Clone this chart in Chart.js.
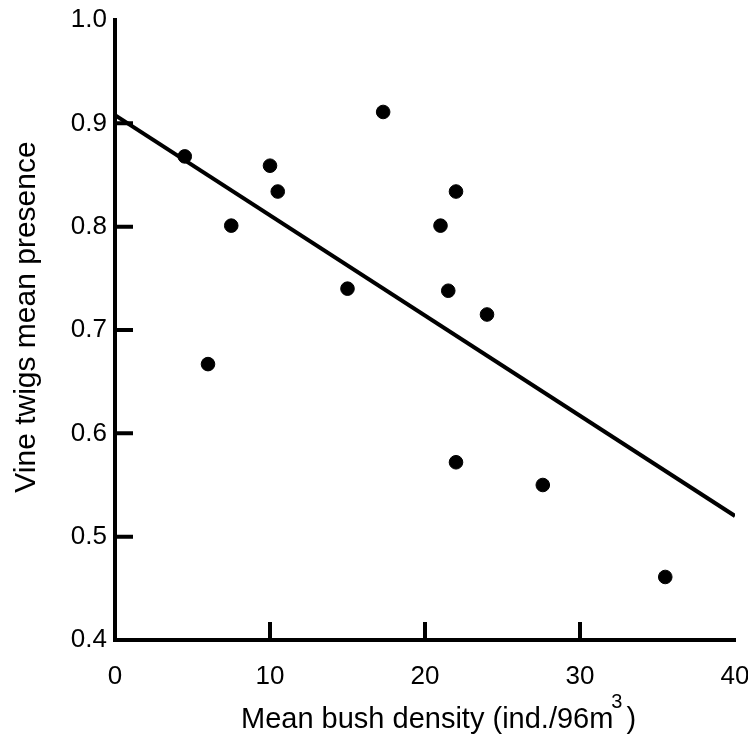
<!DOCTYPE html>
<html>
<head>
<meta charset="utf-8">
<script src="https://cdn.jsdelivr.net/npm/chart.js@4.4.1/dist/chart.umd.min.js"></script>
<style>
    html, body { margin: 0; padding: 0; background: #fff; }
    #wrap { width: 748px; height: 736px; position: relative; }
</style>
</head>
<body>
<div id="wrap"><canvas id="vine_chart"></canvas></div>
<script>
// observed sites
const bushDensity  = [4.5, 6.0, 7.5, 10.0, 10.5, 15.0, 17.3, 21.0, 22.0, 21.5, 24.0, 22.0, 27.6, 35.5];
const vinePresence = [0.868, 0.667, 0.801, 0.859, 0.834, 0.740, 0.911, 0.801, 0.834, 0.738, 0.715, 0.572, 0.550, 0.461];

// fitted regression line, end points
const fitX = [0, 40];
const fitY = [0.908, 0.520];

// axis ticks
const xTicks = [0, 10, 20, 30, 40];
const yTicks = [0.4, 0.5, 0.6, 0.7, 0.8, 0.9, 1.0];
const xInnerTicks = [10, 20, 30];
const yInnerTicks = [0.5, 0.6, 0.7, 0.8, 0.9];

const FONT = '"Liberation Sans", Arial, sans-serif';

document.addEventListener('DOMContentLoaded', function () {
    const ctx = document.getElementById('vine_chart').getContext('2d');

    // inward tick marks + axis titles (x title needs a superscript)
    const decorations = {
        id: 'decorations',
        afterDraw(chart) {
            const c = chart.ctx;
            const area = chart.chartArea;
            const xs = chart.scales.x, ys = chart.scales.y;
            c.save();
            c.strokeStyle = '#000';
            c.lineWidth = 4;
            c.beginPath();
            yInnerTicks.forEach(v => {
                const py = ys.getPixelForValue(v);
                c.moveTo(area.left, py);
                c.lineTo(area.left + 18, py);
            });
            xInnerTicks.forEach(v => {
                const px = xs.getPixelForValue(v);
                c.moveTo(px, area.bottom);
                c.lineTo(px, area.bottom - 18);
            });
            c.stroke();

            c.fillStyle = '#000';
            // y title
            c.save();
            c.translate(35, (area.top + area.bottom) / 2 - 13);
            c.rotate(-Math.PI / 2);
            c.font = '30px ' + FONT;
            c.textAlign = 'center';
            c.textBaseline = 'alphabetic';
            c.fillText('Vine twigs mean presence', 0, 0);
            c.restore();

            // x title
            const main = 'Mean bush density (ind./96m';
            c.font = '29px ' + FONT;
            c.textAlign = 'left';
            c.textBaseline = 'alphabetic';
            const startX = area.left + 126;
            const baseY = 728;
            c.fillText(main, startX, baseY);
            const mainW = c.measureText(main).width;
            c.fillText(' )', startX + mainW + 5, baseY);
            c.font = '20px ' + FONT;
            c.fillText('3', startX + mainW - 2, baseY - 20);
            c.restore();
        }
    };

    new Chart(ctx, {
        type: 'scatter',
        data: {
            datasets: [
                {
                    label: 'Sites',
                    data: bushDensity.map((x, i) => ({ x: x, y: vinePresence[i] })),
                    backgroundColor: '#000',
                    borderColor: '#000',
                    pointRadius: 6.8,
                    pointHoverRadius: 6.8
                },
                {
                    label: 'Fit',
                    data: fitX.map((x, i) => ({ x: x, y: fitY[i] })),
                    showLine: true,
                    borderColor: '#000',
                    borderWidth: 4,
                    pointRadius: 0,
                    fill: false
                }
            ]
        },
        options: {
            responsive: true,
            maintainAspectRatio: false,
            animation: false,
            layout: { padding: { top: 20, right: 13, left: 0, bottom: 0 } },
            plugins: {
                legend: { display: false },
                tooltip: { enabled: false }
            },
            scales: {
                x: {
                    type: 'linear',
                    min: 0,
                    max: 40,
                    afterFit: s => {
                        s.height = 96;
                        s.paddingLeft = 0;
                        s.paddingRight = 0;
                    },
                    afterBuildTicks: s => { s.ticks = xTicks.map(v => ({ value: v })); },
                    grid: { display: false, drawTicks: false },
                    border: { display: true, color: '#000', width: 4 },
                    ticks: {
                        color: '#000',
                        padding: 21,
                        maxRotation: 0,
                        font: { family: FONT, size: 26 },
                        callback: v => String(v)
                    }
                },
                y: {
                    type: 'linear',
                    min: 0.4,
                    max: 1.0,
                    afterFit: s => {
                        s.width = 115;
                        s.paddingTop = 0;
                        s.paddingBottom = 0;
                    },
                    afterBuildTicks: s => { s.ticks = yTicks.map(v => ({ value: v })); },
                    grid: { display: false, drawTicks: false },
                    border: { display: true, color: '#000', width: 4 },
                    ticks: {
                        color: '#000',
                        padding: 8,
                        font: { family: FONT, size: 26 },
                        callback: v => Number(v).toFixed(1)
                    }
                }
            }
        },
        plugins: [decorations]
    });
});
</script>
</body>
</html>
